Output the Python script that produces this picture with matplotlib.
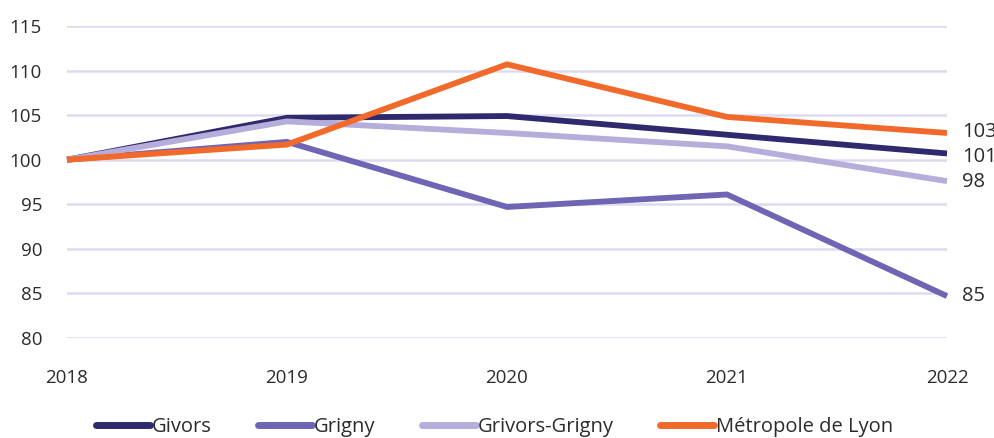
import matplotlib.pyplot as plt
from matplotlib.lines import Line2D

plt.rcParams['font.family'] = ['Open Sans', 'DejaVu Sans']

years = [2018, 2019, 2020, 2021, 2022]
givors = [100, 104.7, 104.9, 102.8, 100.7]
grigny = [100, 102.0, 94.7, 96.1, 84.7]
givors_grigny = [100, 104.3, 103.0, 101.5, 97.6]
metropole = [100, 101.7, 110.7, 104.8, 103.0]
end_labels = ["101", "85", "98", "103"]
series_names = ["Givors", "Grigny", "Grivors-Grigny", "Métropole de Lyon"]
y_ticks = [80, 85, 90, 95, 100, 105, 110, 115]

colors = ["#2d2a6e", "#6e65b4", "#b6addb", "#f26a2b"]
grid_col = "#dedbf1"
text_col = "#2b2b2b"

fig = plt.figure(figsize=(9.95, 4.38), dpi=100)
ax = fig.add_axes([67 / 995, 1 - 338 / 438, 880 / 995, 312 / 438])

series = [givors, grigny, givors_grigny, metropole]
for vals, col in zip(series, colors):
    ax.plot(years, vals, color=col, lw=4.2, solid_joinstyle='miter',
            solid_capstyle='butt', zorder=3, clip_on=False)

# valeurs en bout de courbe
label_y = {"101": 100.3, "85": 84.7, "98": 97.5, "103": 103.1}
for vals, lab in zip(series, end_labels):
    ax.text(years[-1] + 0.068, label_y[lab], lab, fontsize=14.5, color=text_col,
            va='center', ha='left')

ax.set_xlim(2018, 2022)
ax.set_ylim(80, 115)
ax.set_yticks(y_ticks)
ax.set_xticks(years)
ax.set_xticklabels([str(y) for y in years])
ax.tick_params(axis='both', length=0, labelsize=13.5, colors=text_col)
ax.tick_params(axis='x', pad=22)
ax.tick_params(axis='y', pad=18)
ax.grid(axis='y', color=grid_col, lw=1.8)
ax.set_axisbelow(True)
for s in ax.spines.values():
    s.set_visible(False)

handles = [Line2D([0], [0], color=c, lw=5, solid_capstyle='round') for c in colors]
fig.legend(handles, series_names, loc='center', bbox_to_anchor=(0.497, 0.025),
           ncol=4, frameon=False, fontsize=14.5, handlelength=2.7, handletextpad=0.08,
           columnspacing=2.3, labelcolor=text_col)

fig.savefig("out.png", dpi=100)
